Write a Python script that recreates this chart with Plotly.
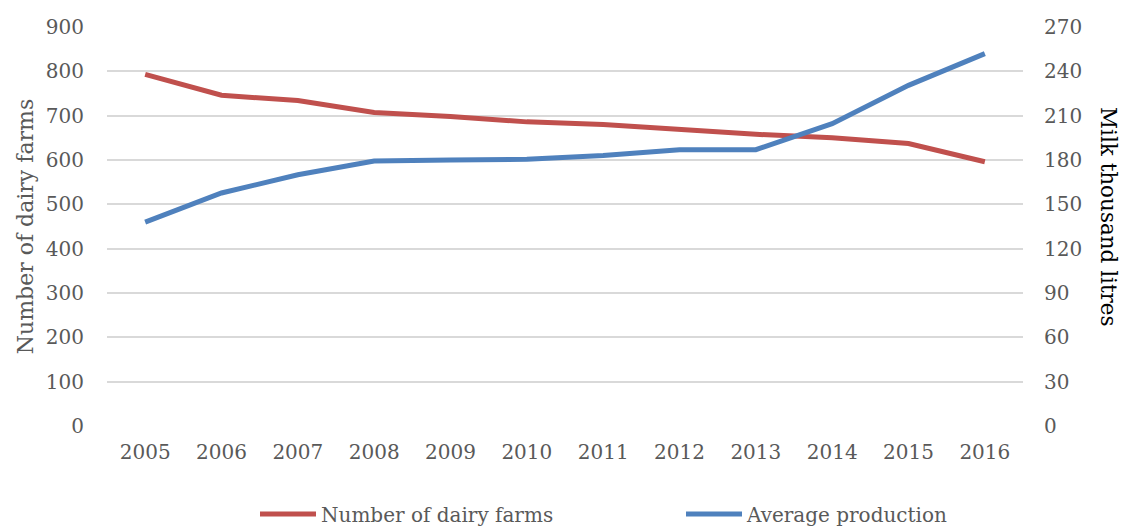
import plotly.graph_objects as go

years = ["2005", "2006", "2007", "2008", "2009", "2010", "2011", "2012", "2013", "2014", "2015", "2016"]
dairy_farms = [793, 746, 734, 707, 698, 686, 680, 668, 658, 650, 637, 596]
avg_production = [138, 157.7, 170, 179.3, 180, 180.5, 183, 187, 187, 204.6, 230.5, 252]

left_ticks = list(range(0, 901, 100))
right_ticks = list(range(0, 271, 30))

FONT = "DejaVu Serif"
GRAY = "#595959"

fig = go.Figure()
fig.add_trace(go.Scatter(x=years, y=dairy_farms, name="Number of dairy farms",
                         mode="lines", line=dict(color="#C0504D", width=5), yaxis="y",
                         legend="legend"))
fig.add_trace(go.Scatter(x=years, y=avg_production, name="Average production",
                         mode="lines", line=dict(color="#4F81BD", width=5), yaxis="y2",
                         legend="legend2"))

legend_common = dict(orientation="h", xref="container", yref="container",
                     xanchor="left", y=1-514/527, yanchor="middle",
                     itemwidth=56, font=dict(size=20, color=GRAY, family=FONT),
                     bgcolor="rgba(0,0,0,0)", itemsizing="constant")

fig.update_layout(
    width=1123, height=527,
    margin=dict(l=107, r=100, t=27, b=101),
    paper_bgcolor="white", plot_bgcolor="white",
    font=dict(family=FONT, size=20, color=GRAY),
    xaxis=dict(type="category", range=[-0.5, 11.5], showgrid=False, showline=False,
               ticks="", tickfont=dict(size=20, color=GRAY), ticklabelstandoff=12),
    yaxis=dict(range=[0, 900], tickvals=left_ticks, showgrid=True, gridcolor="#D9D9D9",
               gridwidth=1.5, zeroline=False, showline=False, ticks="",
               tickfont=dict(size=20, color=GRAY), ticklabelstandoff=22,
               title=dict(text="Number of dairy farms", font=dict(size=22, color=GRAY), standoff=6)),
    yaxis2=dict(range=[0, 270], tickvals=right_ticks, overlaying="y", side="right",
                showgrid=False, zeroline=False, showline=False, ticks="",
                tickfont=dict(size=20, color=GRAY), ticklabelstandoff=20),
    showlegend=True,
    legend=dict(x=255/1123, **legend_common),
    legend2=dict(x=681/1123, **legend_common),
    annotations=[dict(text="Milk thousand litres", textangle=90, xref="paper", yref="paper",
                      x=1.0, xshift=100, y=0.5, yshift=10, showarrow=False,
                      font=dict(size=21.5, color="black", family=FONT))],
)

fig.write_html("out.html")
